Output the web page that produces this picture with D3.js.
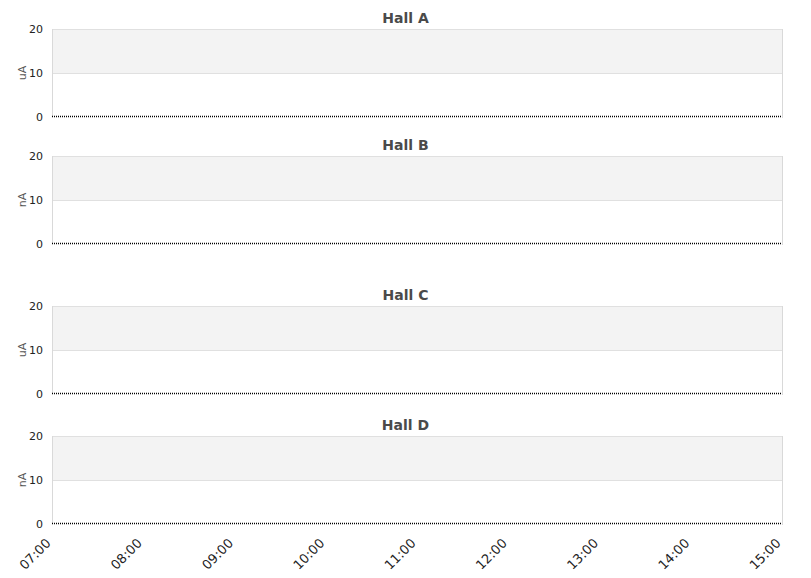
<!DOCTYPE html>
<html>
<head>
<meta charset="utf-8">
<script src="https://cdn.jsdelivr.net/npm/d3@7"></script>
<style>
  body { margin: 0; background: #fff; }
  svg { font-family: "DejaVu Sans", sans-serif; }
</style>
</head>
<body>
<div id="chart"></div>
<script>
// Chart values
const halls = ["Hall A", "Hall B", "Hall C", "Hall D"];
const units = ["uA", "nA", "uA", "nA"];
const times = ["07:00", "07:30", "08:00", "08:30", "09:00", "09:30", "10:00", "10:30",
  "11:00", "11:30", "12:00", "12:30", "13:00", "13:30", "14:00", "14:30", "15:00"];
const hallA = [0, 0, 0, 0, 0, 0, 0, 0, 0, 0, 0, 0, 0, 0, 0, 0, 0];
const hallB = [0, 0, 0, 0, 0, 0, 0, 0, 0, 0, 0, 0, 0, 0, 0, 0, 0];
const hallC = [0, 0, 0, 0, 0, 0, 0, 0, 0, 0, 0, 0, 0, 0, 0, 0, 0];
const hallD = [0, 0, 0, 0, 0, 0, 0, 0, 0, 0, 0, 0, 0, 0, 0, 0, 0];
const yTicks = [0, 10, 20];
const xTickLabels = ["07:00", "08:00", "09:00", "10:00", "11:00", "12:00", "13:00", "14:00", "15:00"];

const series = [hallA, hallB, hallC, hallD];

const width = 811, height = 578;
const left = 52, right = 782;
const panelTops = [29, 156, 306, 436];
const panelH = 88;

const parse = d3.timeParse("%H:%M");

const svg = d3.select("#chart").append("svg")
  .attr("width", width)
  .attr("height", height);

const x = d3.scaleTime()
  .domain([parse("07:00"), parse("15:00")])
  .range([left, right]);

const y = d3.scaleLinear().domain([0, 20]).range([panelH, 0]);

halls.forEach((name, i) => {
  const g = svg.append("g").attr("transform", `translate(0, ${panelTops[i]})`);

  // band from 10 to 20
  g.append("rect")
    .attr("x", left)
    .attr("y", y(20))
    .attr("width", right - left)
    .attr("height", y(10) - y(20))
    .attr("fill", "#f3f3f3");

  // grid lines
  g.selectAll(".grid")
    .data(yTicks.filter(d => d > 0))
    .enter()
    .append("line")
    .attr("x1", left)
    .attr("x2", right)
    .attr("y1", d => y(d) + 0.5)
    .attr("y2", d => y(d) + 0.5)
    .style("stroke", "#e0e0e0");

  // frame sides
  g.append("line")
    .attr("x1", left + 0.5).attr("x2", left + 0.5)
    .attr("y1", 0).attr("y2", panelH)
    .style("stroke", "#d9d9d9");
  g.append("line")
    .attr("x1", right + 0.5).attr("x2", right + 0.5)
    .attr("y1", 0).attr("y2", panelH + 1)
    .style("stroke", "#d9d9d9");

  // y axis labels
  const yAxis = d3.axisLeft(y).tickValues(yTicks).tickSize(0).tickPadding(9);
  const ya = g.append("g").attr("transform", `translate(${left}, 0)`).call(yAxis);
  ya.select(".domain").remove();
  ya.selectAll("text")
    .style("font-size", "11px")
    .style("fill", "#222")
    .style("font-family", "DejaVu Sans, sans-serif");

  // y axis title
  g.append("text")
    .attr("transform", "rotate(-90)")
    .attr("x", -panelH / 2)
    .attr("y", 26)
    .attr("text-anchor", "middle")
    .style("font-size", "11px")
    .style("fill", "#555")
    .text(units[i]);

  // title
  g.append("text")
    .attr("x", width / 2)
    .attr("y", -6)
    .attr("text-anchor", "middle")
    .style("font-size", "14px")
    .style("font-weight", "bold")
    .style("fill", "#4a4a4a")
    .text(name);

  // data line
  const line = d3.line()
    .x((d, j) => x(parse(times[j])))
    .y(d => y(d) - 0.5);

  g.append("path")
    .datum(series[i])
    .attr("d", line)
    .attr("fill", "none")
    .style("stroke", "#000")
    .style("stroke-width", 1.4)
    .style("stroke-dasharray", "1,1");
});

// x axis at the bottom
const xAxis = d3.axisBottom(x)
  .tickValues(xTickLabels.map(parse))
  .tickSize(0)
  .tickFormat(d3.timeFormat("%H:%M"));

const xa = svg.append("g")
  .attr("transform", `translate(0, ${panelTops[3] + panelH})`)
  .call(xAxis);
xa.select(".domain").remove();
xa.selectAll("text")
  .attr("text-anchor", "end")
  .attr("dy", 0)
  .attr("y", 0)
  .attr("transform", "translate(-1, 20) rotate(-45)")
  .style("font-size", "13px")
  .style("fill", "#222")
  .style("font-family", "DejaVu Sans, sans-serif");
</script>
</body>
</html>
